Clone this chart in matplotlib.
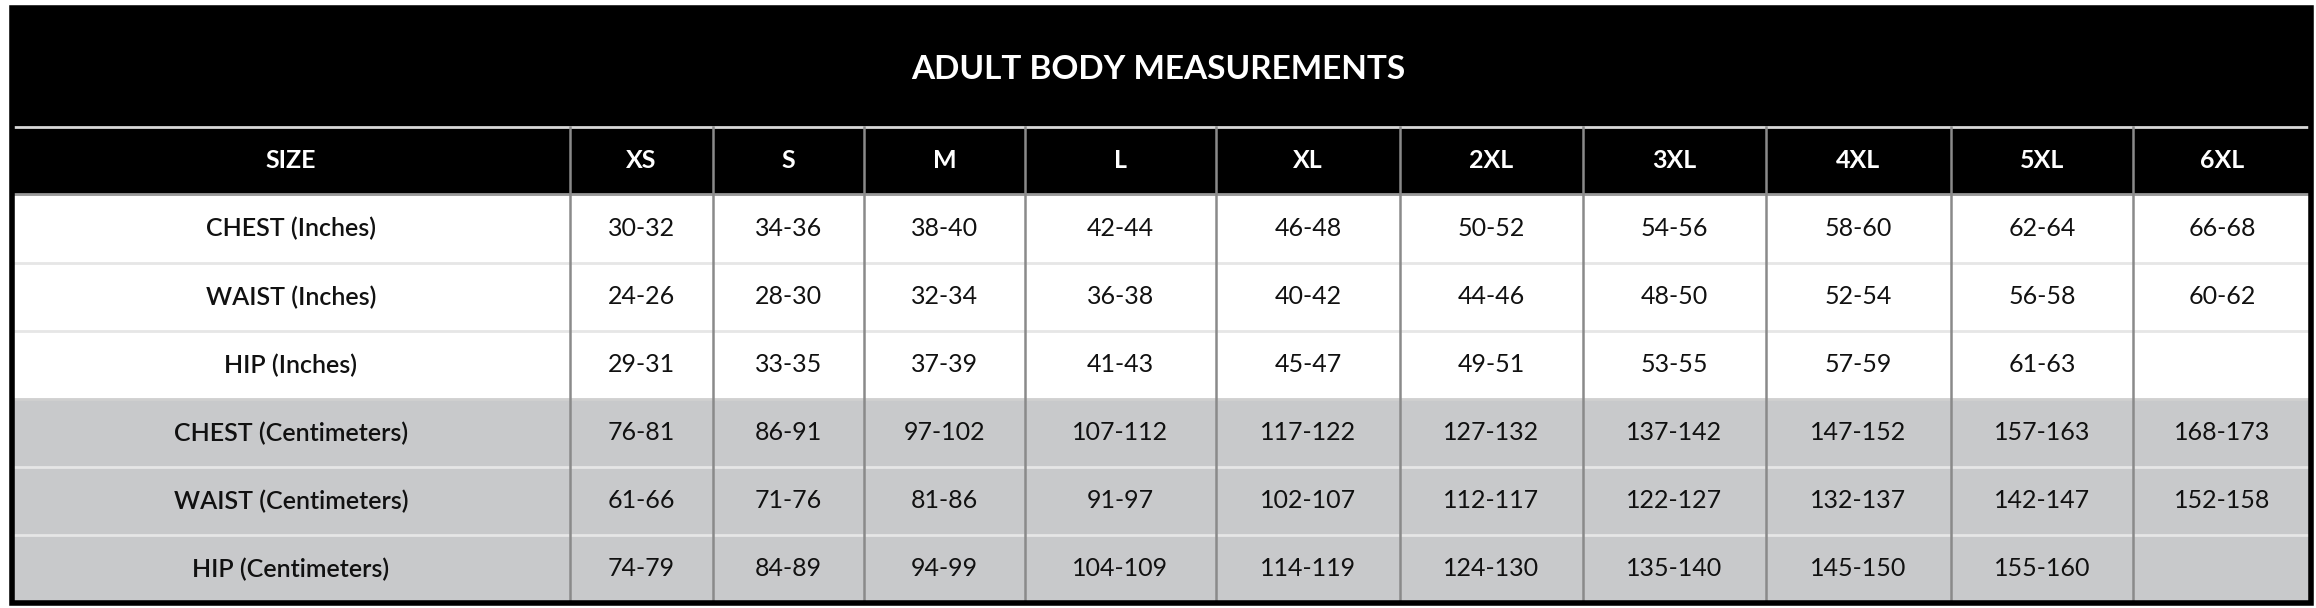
import matplotlib
matplotlib.use("Agg")
import matplotlib.pyplot as plt
from matplotlib.patches import Rectangle

title = "ADULT BODY MEASUREMENTS"
sizes = ["XS", "S", "M", "L", "XL", "2XL", "3XL", "4XL", "5XL", "6XL"]
row_labels = ["CHEST (Inches)", "WAIST (Inches)", "HIP (Inches)",
              "CHEST (Centimeters)", "WAIST (Centimeters)", "HIP (Centimeters)"]
chest_in = ["30-32", "34-36", "38-40", "42-44", "46-48", "50-52", "54-56", "58-60", "62-64", "66-68"]
waist_in = ["24-26", "28-30", "32-34", "36-38", "40-42", "44-46", "48-50", "52-54", "56-58", "60-62"]
hip_in = ["29-31", "33-35", "37-39", "41-43", "45-47", "49-51", "53-55", "57-59", "61-63", ""]
chest_cm = ["76-81", "86-91", "97-102", "107-112", "117-122", "127-132", "137-142", "147-152", "157-163", "168-173"]
waist_cm = ["61-66", "71-76", "81-86", "91-97", "102-107", "112-117", "122-127", "132-137", "142-147", "152-158"]
hip_cm = ["74-79", "84-89", "94-99", "104-109", "114-119", "124-130", "135-140", "145-150", "155-160", ""]
rows = [chest_in, waist_in, hip_in, chest_cm, waist_cm, hip_cm]

W, H = 2316, 608
col_x = [12, 570, 713, 864, 1025, 1216, 1400, 1583, 1766, 1951, 2133, 2311]
row_y = [194, 263, 331, 399, 467, 535, 603]
title_top, title_bot = 8, 127

fig = plt.figure(figsize=(W / 100, H / 100), dpi=100)
ax = fig.add_axes([0, 0, 1, 1])
ax.set_xlim(0, W)
ax.set_ylim(H, 0)
ax.axis("off")
FONT = "Lato"

# title band
ax.add_patch(Rectangle((col_x[0], title_top), col_x[-1] - col_x[0], row_y[0] - title_top, color="black"))
ax.text(W / 2, (title_top + title_bot) / 2 + 2, title, ha="center", va="center",
        color="white", fontsize=24, fontweight="bold", family=FONT)
ax.plot([col_x[0], col_x[-1]], [title_bot, title_bot], color="#d8d8d8", lw=2)

# header
hy = (title_bot + row_y[0]) / 2
ax.text((col_x[0] + col_x[1]) / 2, hy, "SIZE", ha="center", va="center", color="white",
        fontsize=18, fontweight="bold", family=FONT)
for i, s in enumerate(sizes):
    ax.text((col_x[i + 1] + col_x[i + 2]) / 2, hy, s, ha="center", va="center", color="white",
            fontsize=18, fontweight="bold", family=FONT)

# body rows
for r, (lab, vals) in enumerate(zip(row_labels, rows)):
    y0, y1 = row_y[r], row_y[r + 1]
    bg = "white" if r < 3 else "#c8c9cb"
    ax.add_patch(Rectangle((col_x[0], y0), col_x[-1] - col_x[0], y1 - y0, color=bg, zorder=0))
    cy = (y0 + y1) / 2
    ax.text((col_x[0] + col_x[1]) / 2, cy, lab, ha="center", va="center", color="#111111",
            fontsize=18, fontweight="semibold", family=FONT)
    for i, v in enumerate(vals):
        ax.text((col_x[i + 1] + col_x[i + 2]) / 2, cy, v, ha="center", va="center",
                color="#111111", fontsize=18, family=FONT)
    if 0 < r:
        ax.plot([col_x[0], col_x[-1]], [y0, y0], color="#e6e6e6" if r != 3 else "#d0d0d0", lw=2, zorder=1)

ax.plot([col_x[0], col_x[-1]], [row_y[0], row_y[0]], color="#9a9a9a", lw=2, zorder=2)
for x in col_x[1:-1]:
    ax.plot([x, x], [title_bot, row_y[-1]], color="#8a8a8a", lw=1.8, zorder=2)

# outer frame
ax.add_patch(Rectangle((col_x[0], title_top), col_x[-1] - col_x[0], row_y[-1] - title_top,
                       fill=False, edgecolor="black", lw=4, zorder=3))

fig.savefig("out.png", dpi=100)
